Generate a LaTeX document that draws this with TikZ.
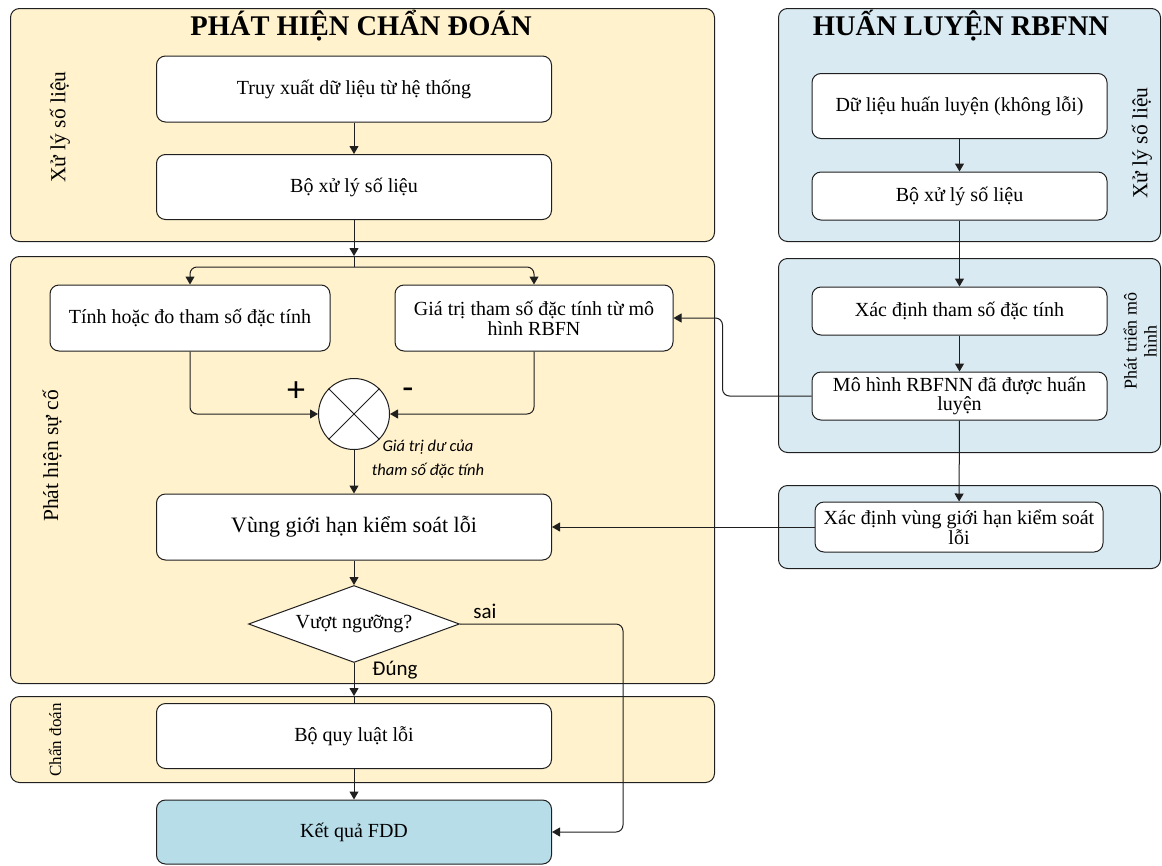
\documentclass[tikz,border=0pt]{standalone}
\usepackage{fontspec}
\setmainfont{Liberation Serif}
\newfontfamily\fddsans{Carlito}
\usepackage{tikz}
\usetikzlibrary{shapes.geometric,arrows.meta,positioning,calc}
\definecolor{fddPane}{HTML}{FFF2CC}
\definecolor{fddTrain}{HTML}{DAEAF2}
\definecolor{fddOut}{HTML}{B6DDE8}
\definecolor{fddEdge}{HTML}{1F1F1F}
\tikzset{
  fddpane/.style={draw=fddEdge,line width=1pt,fill=fddPane,rounded corners=9pt,inner sep=0pt,anchor=north west},
  fddtrain/.style={fddpane,fill=fddTrain},
  fddbox/.style={draw=fddEdge,line width=1pt,fill=white,rounded corners=9pt,align=center,inner sep=1pt,
              font=\fontsize{20}{20}\selectfont},
  fddout/.style={fddbox,fill=fddOut},
  fddgate/.style={diamond,draw=fddEdge,line width=1pt,fill=white,aspect=2.75,inner sep=0pt,
              minimum width=211pt,minimum height=77pt,font=\fontsize{20}{20}\selectfont},
  fddsum/.style={circle,draw=fddEdge,line width=1pt,fill=white,minimum size=71pt,inner sep=0pt},
  fddflow/.style={-{Triangle[length=8pt,width=9pt]},draw=fddEdge,line width=1pt,rounded corners=7pt},
  fddline/.style={draw=fddEdge,line width=1pt,rounded corners=7pt},
  fddtitle/.style={font=\fontsize{28.5}{30}\selectfont\bfseries,anchor=base,inner sep=0pt},
  fddside/.style={rotate=90,font=\fontsize{21.5}{22}\selectfont,inner sep=0pt,align=center},
  fddlbl/.style={font=\fddsans\fontsize{21}{21}\selectfont,inner sep=0pt},
}
\begin{document}
\begin{tikzpicture}[x=1pt,y=-1pt]
  \useasboundingbox (0,0) rectangle (1162,865);
  % lanes
  \node[fddpane,minimum width=704pt,minimum height=233pt] (pData) at (10,8) {};
  \node[fddpane,minimum width=704pt,minimum height=427pt] (pDetect) at (10,256) {};
  \node[fddpane,minimum width=704pt,minimum height=86pt] (pDiag) at (10,696) {};
  \node[fddtrain,minimum width=382pt,minimum height=233pt] (pTrain) at (778,8) {};
  \node[fddtrain,minimum width=382pt,minimum height=194pt] (pModel) at (778,258) {};
  \node[fddtrain,minimum width=382pt,minimum height=83pt] (pLimit) at (778,485) {};

  \node[fddtitle] (tDetect) at (361,35) {PHÁT HIỆN CHẨN ĐOÁN};
  \node[fddtitle] (tTrain) at (961,35) {HUẤN LUYỆN RBFNN};
  \node[fddside] (sData) at (60,127) {Xử lý số liệu};
  \node[fddside] (sDetect) at (52,456) {Phát hiện sự cố};
  \node[fddside,font=\fontsize{17}{17}\selectfont] (sDiag) at (55,740) {Chẩn đoán};
  \node[fddside] (sTrain) at (1142,143) {Xử lý số liệu};
  \node[fddside,font=\fontsize{18}{20}\selectfont] (sModel) at (1140,341) {Phát triển mô\\hình};

  \node[fddbox,minimum width=395pt,minimum height=66pt] (LA) at (354,89) {Truy xuất dữ liệu từ hệ thống};
  \node[fddbox,minimum width=395pt,minimum height=65pt] (LB) at (354,187) {Bộ xử lý số liệu};
  \node[fddbox,minimum width=280pt,minimum height=66pt] (LT) at (190,318) {Tính hoặc đo tham số đặc tính};
  \node[fddbox,minimum width=278pt,minimum height=66pt] (LG) at (534,318) {Giá trị tham số đặc tính từ mô\\hình RBFN};
  \node[fddsum] (Sum) at (354,414) {};
  \node[fddbox,minimum width=395pt,minimum height=66pt,font=\fontsize{22}{22}\selectfont] (LV) at (354,527) {Vùng giới hạn kiểm soát lỗi};
  \node[fddgate] (Dia) at (354,624) {Vượt ngưỡng?};
  \node[fddbox,minimum width=395pt,minimum height=65pt] (LR) at (354,736) {Bộ quy luật lỗi};
  \node[fddout,minimum width=395pt,minimum height=64pt] (Out) at (354,832) {Kết quả FDD};

  \node[fddbox,minimum width=295pt,minimum height=65pt] (RA) at (959.5,106) {Dữ liệu huấn luyện (không lỗi)};
  \node[fddbox,minimum width=295pt,minimum height=48pt] (RB) at (959.5,196) {Bộ xử lý số liệu};
  \node[fddbox,minimum width=295pt,minimum height=48pt] (RC) at (959.5,311) {Xác định tham số đặc tính};
  \node[fddbox,minimum width=295pt,minimum height=48pt,font=\fontsize{20}{19}\selectfont] (RM) at (959.5,396) {Mô hình RBFNN đã được huấn\\luyện};
  \node[fddbox,minimum width=288pt,minimum height=50pt,font=\fontsize{20}{19}\selectfont] (RV) at (959,527) {Xác định vùng giới hạn kiểm soát\\lỗi};

  \draw[fddline] (Sum.north east) -- (Sum.south west) (Sum.north west) -- (Sum.south east);

  \foreach \a/\b in {LA/LB,Sum/LV,LV/Dia,LR/Out,RA/RB,RB/RC,RC/RM,RM/RV,RV/LV}{\draw[fddflow] (\a)--(\b);}
  \coordinate (split) at (354,267);
  \draw[fddflow] (LB.south) -- (LB.south |- pDetect.north);
  \draw[fddline] (LB.south |- pDetect.north) -- (split);
  \draw[fddflow] (split) -| (LT.north);
  \draw[fddflow] (split) -| (LG.north);
  \draw[fddflow] (LT.south) |- (Sum.west);
  \draw[fddflow] (LG.south) |- (Sum.east);
  \draw[fddflow] (RM.west) -- ++(-89,0) |- (LG.east);
  \draw[fddflow] (Dia.south) -- (Dia.south |- pDiag.north);
  \draw[fddline] (Dia.south |- pDiag.north) -- (LR.north);
  \draw[fddflow] (Dia.east) -- ++(163,0) |- (Out.east);

  \node[fddlbl,font=\fddsans\fontsize{36}{36}\selectfont] (lPlus) at (296,392) {+};
  \node[fddlbl,font=\fddsans\fontsize{36}{36}\selectfont] (lMinus) at (408,394) {-};
  \node[fddlbl,font=\fddsans\itshape\fontsize{16.5}{24}\selectfont,align=center] (lRes) at (428,459) {Giá trị dư của\\tham số đặc tính};
  \node[fddlbl] (lNo) at (485,611) {sai};
  \node[fddlbl] (lYes) at (395,670) {Đúng};
\end{tikzpicture}
\end{document}
